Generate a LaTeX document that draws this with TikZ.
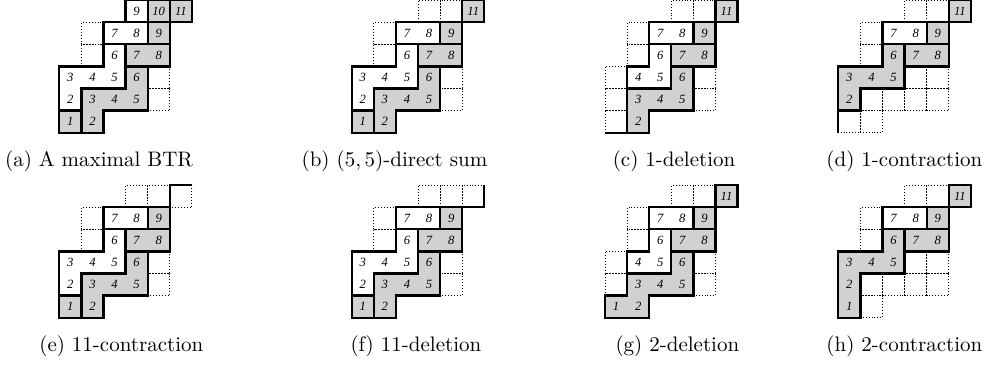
\documentclass[tikz,border=0pt]{standalone}
\usepackage{fontspec}
\newfontfamily\cellfont{Liberation Serif}
\usepackage{tikz}
\usetikzlibrary{positioning}
\definecolor{cellgray}{gray}{0.82}
\tikzset{
	cellbox/.style={
			rectangle,
			minimum size=0.3698cm,
			inner sep=0pt,
			font=\cellfont\itshape\fontsize{6}{7}\selectfont
		},
	graycell/.style={
			cellbox,
			fill=cellgray
		},
	whitecell/.style={
			cellbox,
			fill=white
		},
	emptycell/.style={
			densely dotted,
			line width=0.4pt
		},
	blockline/.style={
			line width=1.1pt
		},
	caption/.style={
			anchor=base,
			inner sep=0pt,
			font=\fontsize{10}{12}\selectfont
		}
}

\begin{document}
\begin{tikzpicture}[x=0.3698cm, y=0.3698cm]
\useasboundingbox (0,0) rectangle (45.52,-16.742);

% (a) maximal
\begin{scope}[shift={(2.683,-6.005)}, name prefix=a-]
\foreach \x/\y/\l in {0/0/1,1/0/2,1/1/3,2/1/4,3/1/5,3/2/6,3/3/7,4/3/8,4/4/9,4/5/10,5/5/11}
  \node[graycell] (g\l) at (\x+.5,\y+.5) {\l};
\foreach \x/\y/\l in {0/1/2,0/2/3,1/2/4,2/2/5,2/3/6,2/4/7,3/4/8,3/5/9}
  \node[whitecell] (w\l) at (\x+.5,\y+.5) {\l};
\foreach \x/\y in {1/3,1/4,4/1,4/2}
  \draw[emptycell] (\x,\y) rectangle ++(1,1);
\draw[blockline] (0,0) rectangle (1,1);
\draw[blockline] (1,0) -- (2,0) -- (2,1) -- (4,1) -- (4,3) -- (3,3) -- (3,2) -- (1,2) -- cycle;
\draw[blockline] (0,1) -- (1,1) -- (1,2) -- (3,2) -- (3,4) -- (2,4) -- (2,3) -- (0,3) -- cycle;
\draw[blockline] (3,3) rectangle (5,4);
\draw[blockline] (2,4) rectangle (4,5);
\draw[blockline] (4,4) rectangle (5,5);
\draw[blockline] (3,5) rectangle (4,6);
\draw[blockline] (4,5) rectangle (5,6);
\draw[blockline] (5,5) rectangle (6,6);
\end{scope}

% (b) direct sum
\begin{scope}[shift={(15.914,-6.005)}, name prefix=b-]
\foreach \x/\y/\l in {0/0/1,1/0/2,1/1/3,2/1/4,3/1/5,3/2/6,3/3/7,4/3/8,4/4/9,5/5/11}
  \node[graycell] (g\l) at (\x+.5,\y+.5) {\l};
\foreach \x/\y/\l in {0/1/2,0/2/3,1/2/4,2/2/5,2/3/6,2/4/7,3/4/8}
  \node[whitecell] (w\l) at (\x+.5,\y+.5) {\l};
\foreach \x/\y in {1/3,1/4,4/1,4/2,3/5,4/5}
  \draw[emptycell] (\x,\y) rectangle ++(1,1);
\draw[blockline] (0,0) rectangle (1,1);
\draw[blockline] (1,0) -- (2,0) -- (2,1) -- (4,1) -- (4,3) -- (3,3) -- (3,2) -- (1,2) -- cycle;
\draw[blockline] (0,1) -- (1,1) -- (1,2) -- (3,2) -- (3,4) -- (2,4) -- (2,3) -- (0,3) -- cycle;
\draw[blockline] (3,3) rectangle (5,4);
\draw[blockline] (2,4) rectangle (4,5);
\draw[blockline] (4,4) rectangle (5,5);
\draw[blockline] (5,5) rectangle (6,6);
\end{scope}

% (c) 1-deletion
\begin{scope}[shift={(27.376,-6.005)}, name prefix=c-]
\foreach \x/\y/\l in {1/0/2,1/1/3,2/1/4,3/1/5,3/2/6,3/3/7,4/3/8,4/4/9,5/5/11}
  \node[graycell] (g\l) at (\x+.5,\y+.5) {\l};
\foreach \x/\y/\l in {1/2/4,2/2/5,2/3/6,2/4/7,3/4/8}
  \node[whitecell] (w\l) at (\x+.5,\y+.5) {\l};
\foreach \x/\y in {0/0,0/1,0/2,1/3,1/4,4/1,4/2,3/5,4/5}
  \draw[emptycell] (\x,\y) rectangle ++(1,1);
\draw[blockline] (0,0) -- (1,0);
\draw[blockline] (1,0) -- (2,0) -- (2,1) -- (4,1) -- (4,3) -- (3,3) -- (3,2) -- (1,2) -- cycle;
\draw[blockline] (1,2) -- (3,2) -- (3,4) -- (2,4) -- (2,3) -- (1,3) -- cycle;
\draw[blockline] (3,3) rectangle (5,4);
\draw[blockline] (2,4) rectangle (4,5);
\draw[blockline] (4,4) rectangle (5,5);
\draw[blockline] (5,5) rectangle (6,6);
\end{scope}

% (d) 1-contraction
\begin{scope}[shift={(37.932,-6.005)}, name prefix=d-]
\foreach \x/\y/\l in {0/1/2,0/2/3,1/2/4,2/2/5,2/3/6,3/3/7,4/3/8,4/4/9,5/5/11}
  \node[graycell] (g\l) at (\x+.5,\y+.5) {\l};
\foreach \x/\y/\l in {2/4/7,3/4/8}
  \node[whitecell] (w\l) at (\x+.5,\y+.5) {\l};
\foreach \x/\y in {0/0,1/0,1/1,2/1,3/1,4/1,3/2,4/2,1/3,1/4,3/5,4/5}
  \draw[emptycell] (\x,\y) rectangle ++(1,1);
\draw[blockline] (0,0) -- (0,1);
\draw[blockline] (0,1) -- (1,1) -- (1,2) -- (3,2) -- (3,4) -- (2,4) -- (2,3) -- (0,3) -- cycle;
\draw[blockline] (3,3) rectangle (5,4);
\draw[blockline] (2,4) rectangle (4,5);
\draw[blockline] (4,4) rectangle (5,5);
\draw[blockline] (5,5) rectangle (6,6);
\end{scope}

% (e) 11-contraction
\begin{scope}[shift={(2.683,-14.376)}, name prefix=e-]
\foreach \x/\y/\l in {0/0/1,1/0/2,1/1/3,2/1/4,3/1/5,3/2/6,3/3/7,4/3/8,4/4/9}
  \node[graycell] (g\l) at (\x+.5,\y+.5) {\l};
\foreach \x/\y/\l in {0/1/2,0/2/3,1/2/4,2/2/5,2/3/6,2/4/7,3/4/8}
  \node[whitecell] (w\l) at (\x+.5,\y+.5) {\l};
\foreach \x/\y in {1/3,1/4,4/1,4/2,3/5,4/5,5/5}
  \draw[emptycell] (\x,\y) rectangle ++(1,1);
\draw[blockline] (0,0) rectangle (1,1);
\draw[blockline] (1,0) -- (2,0) -- (2,1) -- (4,1) -- (4,3) -- (3,3) -- (3,2) -- (1,2) -- cycle;
\draw[blockline] (0,1) -- (1,1) -- (1,2) -- (3,2) -- (3,4) -- (2,4) -- (2,3) -- (0,3) -- cycle;
\draw[blockline] (3,3) rectangle (5,4);
\draw[blockline] (2,4) rectangle (4,5);
\draw[blockline] (4,4) rectangle (5,5);
\draw[blockline] (5,5) -- (5,6) -- (6,6);
\end{scope}

% (f) 11-deletion
\begin{scope}[shift={(15.914,-14.376)}, name prefix=f-]
\foreach \x/\y/\l in {0/0/1,1/0/2,1/1/3,2/1/4,3/1/5,3/2/6,3/3/7,4/3/8,4/4/9}
  \node[graycell] (g\l) at (\x+.5,\y+.5) {\l};
\foreach \x/\y/\l in {0/1/2,0/2/3,1/2/4,2/2/5,2/3/6,2/4/7,3/4/8}
  \node[whitecell] (w\l) at (\x+.5,\y+.5) {\l};
\foreach \x/\y in {1/3,1/4,4/1,4/2,3/5,4/5,5/5}
  \draw[emptycell] (\x,\y) rectangle ++(1,1);
\draw[blockline] (0,0) rectangle (1,1);
\draw[blockline] (1,0) -- (2,0) -- (2,1) -- (4,1) -- (4,3) -- (3,3) -- (3,2) -- (1,2) -- cycle;
\draw[blockline] (0,1) -- (1,1) -- (1,2) -- (3,2) -- (3,4) -- (2,4) -- (2,3) -- (0,3) -- cycle;
\draw[blockline] (3,3) rectangle (5,4);
\draw[blockline] (2,4) rectangle (4,5);
\draw[blockline] (4,4) rectangle (5,5);
\draw[blockline] (5,5) -- (6,5) -- (6,6);
\end{scope}

% (g) 2-deletion
\begin{scope}[shift={(27.376,-14.376)}, name prefix=g-]
\foreach \x/\y/\l in {0/0/1,1/0/2,1/1/3,2/1/4,3/1/5,3/2/6,3/3/7,4/3/8,4/4/9,5/5/11}
  \node[graycell] (g\l) at (\x+.5,\y+.5) {\l};
\foreach \x/\y/\l in {1/2/4,2/2/5,2/3/6,2/4/7,3/4/8}
  \node[whitecell] (w\l) at (\x+.5,\y+.5) {\l};
\foreach \x/\y in {0/1,0/2,1/3,1/4,4/1,4/2,3/5,4/5}
  \draw[emptycell] (\x,\y) rectangle ++(1,1);
\draw[blockline] (0,0) -- (2,0) -- (2,1) -- (4,1) -- (4,3) -- (3,3) -- (3,2) -- (1,2) -- (1,1) -- (0,1) -- cycle;
\draw[blockline] (1,2) -- (3,2) -- (3,4) -- (2,4) -- (2,3) -- (1,3) -- cycle;
\draw[blockline] (3,3) rectangle (5,4);
\draw[blockline] (2,4) rectangle (4,5);
\draw[blockline] (4,4) rectangle (5,5);
\draw[blockline] (5,5) rectangle (6,6);
\end{scope}

% (h) 2-contraction
\begin{scope}[shift={(37.932,-14.376)}, name prefix=h-]
\foreach \x/\y/\l in {0/0/1,0/1/2,0/2/3,1/2/4,2/2/5,2/3/6,3/3/7,4/3/8,4/4/9,5/5/11}
  \node[graycell] (g\l) at (\x+.5,\y+.5) {\l};
\foreach \x/\y/\l in {2/4/7,3/4/8}
  \node[whitecell] (w\l) at (\x+.5,\y+.5) {\l};
\foreach \x/\y in {1/0,1/1,2/1,3/1,4/1,3/2,4/2,1/3,1/4,3/5,4/5}
  \draw[emptycell] (\x,\y) rectangle ++(1,1);
\draw[blockline] (0,0) -- (1,0) -- (1,2) -- (3,2) -- (3,4) -- (2,4) -- (2,3) -- (0,3) -- cycle;
\draw[blockline] (3,3) rectangle (5,4);
\draw[blockline] (2,4) rectangle (4,5);
\draw[blockline] (4,4) rectangle (5,5);
\draw[blockline] (5,5) rectangle (6,6);
\end{scope}

% captions
\node[caption] (capa) at (4.48,-7.534) {(a) A maximal BTR};
\node[caption] (capb) at (17.85,-7.534) {(b) $(5,5)$-direct sum};
\node[caption] (capc) at (30.50,-7.534) {(c) 1-deletion};
\node[caption] (capd) at (40.92,-7.534) {(d) 1-contraction};
\node[caption] (cape) at (5.49,-15.905) {(e) 11-contraction};
\node[caption] (capf) at (18.82,-15.905) {(f) 11-deletion};
\node[caption] (capg) at (30.65,-15.905) {(g) 2-deletion};
\node[caption] (caph) at (40.92,-15.905) {(h) 2-contraction};
\end{tikzpicture}
\end{document}
